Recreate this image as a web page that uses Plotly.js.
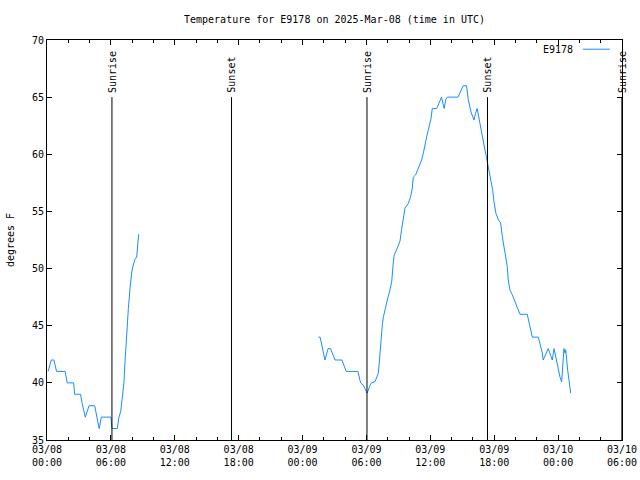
<!DOCTYPE html>
<html>
<head>
<meta charset="utf-8">
<script src="https://cdn.plot.ly/plotly-3.0.1.min.js"></script>
<style>html,body{margin:0;padding:0;background:#fff;}#chart{width:640px;height:480px;}</style>
</head>
<body>
<div id="chart"></div>
<script>
// Series name and base time (UTC)
const seriesName = "E9178";
const baseDate = [2025, 2, 8];

// Hours after 2025-03-08 00:00 UTC and temperatures (degrees F); null marks a data gap
const hours = [
  0.1, 0.4, 0.65, 0.9, 1.7, 1.9, 2.5, 2.6, 3.15, 3.3, 3.6, 3.95, 4.48, 4.9, 5.1, 6.0, 6.1, 6.6,
  6.76, 6.92, 7.07, 7.23, 7.33, 7.48, 7.64, 7.8, 7.96, 8.1, 8.26, 8.42, 8.52, 8.61,
  null,
  25.5, 25.65, 26.1, 26.4, 26.63, 27.05, 27.7, 28.1, 29.2, 29.45, 29.7, 30.07, 30.3, 30.47, 30.8,
  31.1, 31.2, 31.3, 31.4, 31.5, 31.6, 31.74, 31.96, 32.2, 32.37, 32.52, 32.61, 32.9, 33.15, 33.3,
  33.46, 33.62, 33.93, 34.15, 34.3, 34.4, 34.62, 34.87, 35.18, 35.34, 35.5, 35.65, 35.8, 35.96,
  36.06, 36.18, 36.6, 37.05, 37.3, 37.45, 37.6, 38.6, 39.09, 39.4, 39.56, 39.82, 40.1, 40.25, 40.4,
  40.66, 40.97, 41.2, 41.44, 41.7, 41.85, 42.0, 42.17, 42.4, 42.6, 42.76, 42.92, 43.07, 43.22, 43.32,
  43.48, 43.7, 43.95, 44.17, 44.42, 45.1, 45.3, 45.45, 45.58, 46.14, 46.37, 46.52, 46.6, 46.86, 47.07,
  47.3, 47.45, 47.62, 47.8, 48.02, 48.18, 48.33, 48.55, 48.64, 48.71, 48.9, 49.05, 49.18
];
const temps = [
  41.0, 42.0, 42.0, 41.0, 41.0, 40.0, 40.0, 39.0, 39.0, 38.2, 37.0, 38.0, 38.0, 36.0, 37.0, 37.0, 36.0, 36.0,
  37.0, 37.5, 38.7, 40.1, 41.9, 44.5, 46.5, 48.3, 49.7, 50.3, 50.8, 51.0, 52.1, 53.0,
  null,
  44.0, 44.0, 42.0, 43.0, 43.0, 42.0, 42.0, 41.0, 41.0, 40.0, 39.8, 39.1, 39.7, 40.0, 40.1,
  40.8, 41.7, 43.2, 44.3, 45.2, 45.8, 46.5, 47.25, 48.1, 48.85, 50.5, 51.2, 51.8, 52.4, 53.4,
  54.4, 55.3, 55.7, 56.3, 57.0, 58.0, 58.2, 58.8, 59.5, 60.1, 61.0, 61.5, 62.1, 62.6,
  63.1, 64.0, 64.0, 65.0, 64.0, 64.8, 65.0, 65.0, 66.0, 66.0, 64.8, 63.7, 63.0, 63.6, 64.0,
  62.7, 61.25, 60.1, 58.8, 57.9, 56.9, 55.7, 54.8, 54.25, 54.0, 52.8, 51.9, 51.0, 50.2, 49.0,
  48.1, 47.7, 47.1, 46.7, 46.0, 46.0, 45.2, 44.5, 44.0, 44.0, 43.2, 42.6, 42.0, 42.6, 43.0,
  42.4, 42.0, 43.0, 42.15, 41.1, 40.5, 40.1, 43.0, 42.6, 42.9, 41.1, 40.0, 39.1
];

// Sun events (hours after base) and labels
const sunHours = [6.1, 17.33, 30.05, 41.37, 53.99];
const sunLabels = ["Sunrise", "Sunset", "Sunrise", "Sunset", "Sunrise"];
const sunLineTop = 65;

// X tick positions (hours after base) and labels
const tickHours = [0, 6, 12, 18, 24, 30, 36, 42, 48, 54];
const tickLabels = [
  "03/08<br>00:00", "03/08<br>06:00", "03/08<br>12:00", "03/08<br>18:00",
  "03/09<br>00:00", "03/09<br>06:00", "03/09<br>12:00", "03/09<br>18:00",
  "03/10<br>00:00", "03/10<br>06:00"
];

// Y axis
const yRange = [35, 70];
const yStep = 5;

const base = Date.UTC(baseDate[0], baseDate[1], baseDate[2]);
const toMs = h => (h === null ? null : base + h * 3600000);

const font = {family: "DejaVu Sans Mono, Liberation Mono, monospace", size: 10, color: "#000"};
const lineColor = "#1a8cff";

const trace = {
  x: hours.map(toMs),
  y: temps,
  type: "scatter",
  mode: "lines",
  name: seriesName,
  line: {color: lineColor, width: 1},
  connectgaps: false,
  showlegend: false,
  hoverinfo: "skip"
};

const shapes = sunHours.map(h => ({
  type: "line", xref: "x", yref: "y",
  x0: toMs(h), x1: toMs(h), y0: yRange[0], y1: sunLineTop,
  line: {color: "#000", width: 1}
}));
// legend sample line
shapes.push({type: "line", xref: "paper", yref: "paper", x0: 0.932, x1: 0.979, y0: 0.977, y1: 0.977,
  line: {color: lineColor, width: 1}});

const annotations = sunHours.map((h, i) => ({
  x: toMs(h), y: sunLineTop, xref: "x", yref: "y",
  text: sunLabels[i], showarrow: false, textangle: -90,
  xanchor: "center", yanchor: "bottom", yshift: 2, font: font
}));
annotations.push({x: 0.918, y: 0.977, xref: "paper", yref: "paper", text: seriesName,
  showarrow: false, xanchor: "right", yanchor: "middle", font: font});

const layout = {
  width: 640, height: 480,
  margin: {l: 47, r: 18, t: 40, b: 40},
  paper_bgcolor: "#fff", plot_bgcolor: "#fff",
  font: font,
  showlegend: false,
  title: {text: "Temperature for E9178 on 2025-Mar-08 (time in UTC)", font: font,
          x: 0.5, xref: "paper", xanchor: "center", y: 0.96, yref: "container", yanchor: "middle"},
  xaxis: {
    type: "date",
    range: [toMs(tickHours[0]), toMs(tickHours[tickHours.length - 1])],
    tickmode: "array",
    tickvals: tickHours.map(toMs),
    ticktext: tickLabels,
    ticks: "inside", ticklen: 5, tickcolor: "#000", tickwidth: 1,
    minor: {dtick: 2 * 3600000, tick0: toMs(0), ticks: "inside", ticklen: 3, tickcolor: "#000", showgrid: false},
    showline: true, linecolor: "#000", linewidth: 1, mirror: "allticks",
    showgrid: false, zeroline: false, tickfont: font
  },
  yaxis: {
    range: yRange, dtick: yStep, tick0: yRange[0],
    ticks: "inside", ticklen: 5, tickcolor: "#000", tickwidth: 1,
    showline: true, linecolor: "#000", linewidth: 1, mirror: "allticks",
    showgrid: false, zeroline: false, tickfont: font,
    title: {text: "degrees F", font: font, standoff: 15}
  },
  shapes: shapes,
  annotations: annotations
};

Plotly.newPlot("chart", [trace], layout, {staticPlot: true, displayModeBar: false});
</script>
</body>
</html>
